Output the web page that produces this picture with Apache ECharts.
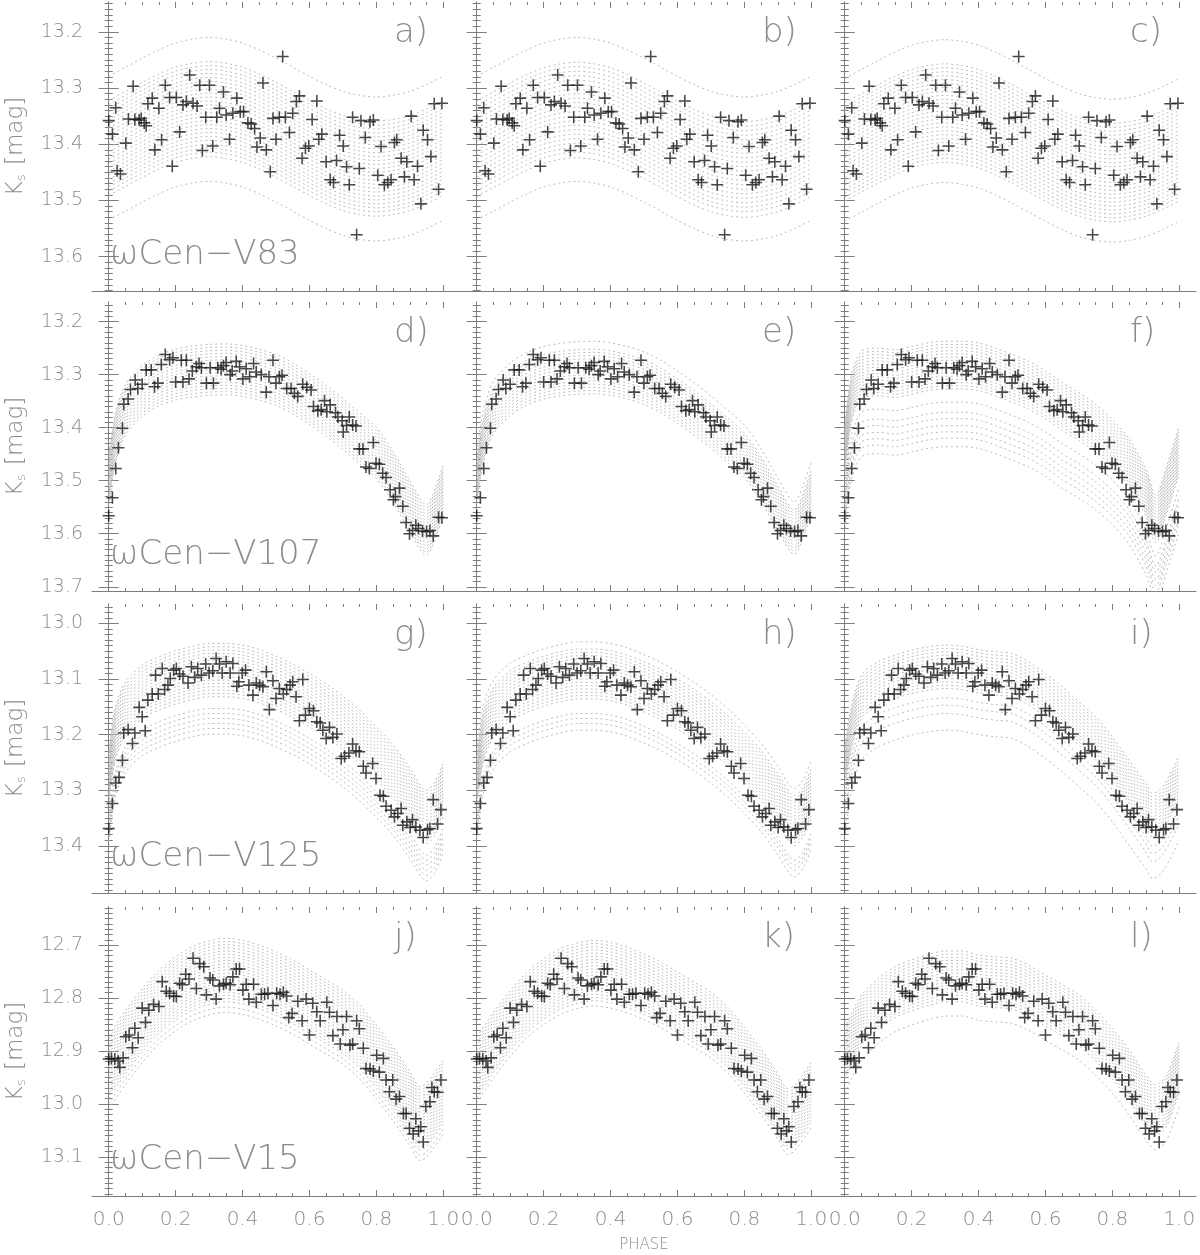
<!DOCTYPE html>
<html>
<head>
<meta charset="utf-8">
<script src="https://cdn.jsdelivr.net/npm/echarts@6/dist/echarts.min.js"></script>
<style>
  html, body { margin: 0; background: #fff; }
  #chart { width: 1200px; height: 1255px; }
</style>
</head>
<body>
<div id="chart"></div>
<script>
// ---- observed light curves [phase, Ks] (same points in all three columns of a row)
const v83Obs = [[0.000,13.358],[0.011,13.382],[0.021,13.335],[0.025,13.447],[0.035,13.453],[0.051,13.398],[0.059,13.355],[0.073,13.297],[0.078,13.356],[0.091,13.357],[0.097,13.354],[0.106,13.362],[0.112,13.367],[0.117,13.328],[0.130,13.318],[0.138,13.410],[0.150,13.336],[0.158,13.392],[0.169,13.295],[0.182,13.317],[0.190,13.439],[0.202,13.317],[0.212,13.378],[0.222,13.330],[0.232,13.324],[0.242,13.277],[0.252,13.327],[0.264,13.332],[0.272,13.295],[0.280,13.411],[0.290,13.352],[0.301,13.295],[0.311,13.403],[0.323,13.352],[0.331,13.336],[0.343,13.307],[0.351,13.348],[0.361,13.391],[0.371,13.345],[0.383,13.318],[0.393,13.342],[0.403,13.342],[0.416,13.362],[0.426,13.364],[0.436,13.372],[0.443,13.405],[0.453,13.389],[0.461,13.291],[0.471,13.410],[0.483,13.449],[0.491,13.354],[0.500,13.391],[0.510,13.352],[0.520,13.244],[0.528,13.352],[0.540,13.379],[0.550,13.345],[0.561,13.324],[0.570,13.314],[0.578,13.425],[0.588,13.407],[0.598,13.403],[0.608,13.356],[0.622,13.323],[0.628,13.391],[0.637,13.382],[0.650,13.431],[0.662,13.463],[0.672,13.468],[0.681,13.429],[0.690,13.384],[0.701,13.403],[0.711,13.440],[0.719,13.472],[0.729,13.352],[0.741,13.561],[0.749,13.443],[0.754,13.358],[0.767,13.388],[0.781,13.360],[0.791,13.357],[0.804,13.455],[0.814,13.404],[0.824,13.472],[0.834,13.468],[0.844,13.463],[0.854,13.397],[0.861,13.392],[0.874,13.425],[0.884,13.458],[0.891,13.431],[0.904,13.350],[0.913,13.463],[0.923,13.439],[0.933,13.506],[0.940,13.375],[0.953,13.392],[0.963,13.422],[0.973,13.328],[0.986,13.480],[0.996,13.327]];

const v107Obs = [[0.000,13.566],[0.011,13.532],[0.021,13.477],[0.029,13.438],[0.041,13.401],[0.045,13.356],[0.058,13.346],[0.065,13.328],[0.079,13.310],[0.087,13.326],[0.100,13.318],[0.112,13.291],[0.127,13.291],[0.137,13.323],[0.147,13.316],[0.157,13.281],[0.169,13.262],[0.182,13.272],[0.192,13.268],[0.200,13.314],[0.217,13.273],[0.222,13.314],[0.232,13.273],[0.240,13.308],[0.250,13.293],[0.262,13.285],[0.270,13.279],[0.277,13.287],[0.292,13.316],[0.303,13.287],[0.313,13.316],[0.326,13.287],[0.336,13.290],[0.343,13.283],[0.351,13.277],[0.363,13.300],[0.369,13.293],[0.381,13.275],[0.391,13.285],[0.401,13.308],[0.411,13.289],[0.421,13.304],[0.433,13.279],[0.441,13.295],[0.456,13.300],[0.471,13.333],[0.479,13.304],[0.491,13.273],[0.500,13.316],[0.510,13.304],[0.518,13.301],[0.532,13.326],[0.545,13.326],[0.555,13.335],[0.565,13.341],[0.580,13.318],[0.592,13.324],[0.605,13.329],[0.612,13.360],[0.625,13.368],[0.635,13.366],[0.645,13.349],[0.652,13.370],[0.662,13.357],[0.678,13.372],[0.685,13.380],[0.698,13.387],[0.701,13.408],[0.711,13.396],[0.719,13.380],[0.729,13.395],[0.739,13.397],[0.749,13.440],[0.760,13.440],[0.769,13.474],[0.779,13.477],[0.791,13.428],[0.799,13.467],[0.809,13.469],[0.819,13.486],[0.829,13.494],[0.841,13.517],[0.851,13.536],[0.857,13.530],[0.869,13.514],[0.879,13.548],[0.889,13.579],[0.899,13.600],[0.908,13.594],[0.918,13.584],[0.926,13.590],[0.938,13.595],[0.950,13.596],[0.960,13.594],[0.970,13.604],[0.986,13.569],[0.996,13.570]];

const v125Obs = [[0.000,13.369],[0.011,13.324],[0.021,13.287],[0.031,13.277],[0.041,13.246],[0.045,13.197],[0.058,13.191],[0.071,13.216],[0.078,13.197],[0.091,13.151],[0.100,13.168],[0.109,13.193],[0.117,13.138],[0.130,13.127],[0.140,13.093],[0.148,13.127],[0.160,13.081],[0.167,13.119],[0.177,13.111],[0.184,13.099],[0.194,13.084],[0.202,13.081],[0.212,13.091],[0.222,13.095],[0.237,13.107],[0.247,13.078],[0.257,13.097],[0.266,13.081],[0.277,13.093],[0.290,13.073],[0.300,13.089],[0.311,13.085],[0.321,13.063],[0.331,13.073],[0.339,13.089],[0.351,13.069],[0.363,13.089],[0.371,13.072],[0.383,13.113],[0.389,13.105],[0.399,13.089],[0.409,13.084],[0.419,13.111],[0.431,13.129],[0.441,13.107],[0.451,13.111],[0.461,13.114],[0.471,13.087],[0.480,13.155],[0.491,13.103],[0.500,13.135],[0.510,13.117],[0.522,13.127],[0.532,13.119],[0.542,13.111],[0.550,13.105],[0.560,13.132],[0.570,13.175],[0.580,13.101],[0.588,13.165],[0.600,13.153],[0.612,13.157],[0.622,13.177],[0.632,13.179],[0.640,13.192],[0.650,13.207],[0.660,13.187],[0.670,13.205],[0.682,13.199],[0.695,13.243],[0.705,13.239],[0.718,13.233],[0.729,13.217],[0.739,13.229],[0.749,13.231],[0.761,13.257],[0.769,13.269],[0.789,13.252],[0.799,13.279],[0.811,13.309],[0.821,13.311],[0.829,13.329],[0.844,13.336],[0.854,13.348],[0.864,13.342],[0.874,13.333],[0.879,13.363],[0.891,13.357],[0.901,13.367],[0.908,13.353],[0.918,13.366],[0.930,13.372],[0.940,13.385],[0.953,13.371],[0.960,13.369],[0.970,13.317],[0.983,13.361],[0.993,13.335]];

const v15Obs = [[0.000,12.915],[0.008,12.914],[0.018,12.915],[0.028,12.919],[0.033,12.931],[0.043,12.913],[0.051,12.873],[0.061,12.870],[0.071,12.894],[0.078,12.857],[0.088,12.875],[0.100,12.819],[0.110,12.846],[0.120,12.823],[0.134,12.812],[0.150,12.816],[0.160,12.769],[0.172,12.787],[0.182,12.791],[0.194,12.796],[0.202,12.797],[0.212,12.772],[0.220,12.775],[0.230,12.755],[0.240,12.764],[0.252,12.725],[0.262,12.782],[0.272,12.735],[0.284,12.741],[0.292,12.794],[0.303,12.762],[0.311,12.766],[0.321,12.802],[0.331,12.777],[0.343,12.774],[0.351,12.772],[0.363,12.775],[0.371,12.760],[0.381,12.745],[0.391,12.745],[0.401,12.785],[0.411,12.774],[0.419,12.802],[0.433,12.774],[0.441,12.808],[0.456,12.793],[0.466,12.793],[0.476,12.791],[0.491,12.814],[0.502,12.791],[0.512,12.793],[0.522,12.789],[0.532,12.796],[0.538,12.837],[0.548,12.829],[0.565,12.806],[0.578,12.843],[0.590,12.802],[0.600,12.870],[0.610,12.810],[0.622,12.826],[0.632,12.843],[0.652,12.808],[0.660,12.827],[0.670,12.871],[0.682,12.835],[0.692,12.887],[0.700,12.860],[0.711,12.835],[0.721,12.889],[0.729,12.887],[0.741,12.843],[0.749,12.858],[0.761,12.895],[0.769,12.933],[0.781,12.934],[0.791,12.938],[0.801,12.908],[0.809,12.940],[0.821,12.914],[0.829,12.955],[0.839,12.977],[0.849,12.955],[0.859,12.991],[0.869,12.986],[0.881,13.018],[0.889,13.018],[0.899,13.046],[0.910,13.057],[0.918,13.028],[0.926,13.051],[0.933,13.043],[0.940,13.072],[0.948,13.005],[0.960,12.996],[0.966,12.969],[0.973,12.977],[0.983,12.978],[0.993,12.955]];

// ---- model templates (upper curve of each family) [phase, Ks]
const v83Template = [[0,13.279],[0.05,13.263],[0.10,13.247],[0.15,13.232],[0.20,13.220],[0.25,13.213],[0.30,13.210],[0.35,13.213],[0.40,13.220],[0.45,13.232],[0.50,13.247],[0.55,13.263],[0.60,13.279],[0.65,13.294],[0.70,13.306],[0.75,13.313],[0.80,13.316],[0.85,13.313],[0.90,13.306],[0.95,13.294],[1.00,13.279]];
const v107Template = [[0,13.450],[0.02,13.372],[0.05,13.318],[0.10,13.283],[0.15,13.263],[0.20,13.252],[0.25,13.246],[0.30,13.243],[0.35,13.242],[0.40,13.245],[0.45,13.252],[0.50,13.262],[0.55,13.278],[0.60,13.298],[0.65,13.320],[0.70,13.345],[0.75,13.372],[0.80,13.400],[0.85,13.445],[0.90,13.500],[0.95,13.545],[0.975,13.515],[1.00,13.470]];
const v107TemplateC = [[0,13.400],[0.02,13.300],[0.05,13.256],[0.10,13.250],[0.15,13.253],[0.20,13.247],[0.25,13.240],[0.30,13.237],[0.35,13.237],[0.40,13.240],[0.45,13.250],[0.50,13.262],[0.55,13.275],[0.60,13.293],[0.65,13.315],[0.70,13.334],[0.75,13.356],[0.80,13.384],[0.85,13.421],[0.90,13.477],[0.93,13.527],[0.96,13.477],[1.00,13.396]];
const v125Template = [[0,13.230],[0.02,13.150],[0.05,13.105],[0.10,13.075],[0.15,13.060],[0.20,13.049],[0.25,13.041],[0.30,13.036],[0.35,13.036],[0.40,13.039],[0.45,13.047],[0.50,13.059],[0.55,13.073],[0.60,13.090],[0.65,13.109],[0.70,13.131],[0.75,13.156],[0.80,13.186],[0.85,13.218],[0.90,13.260],[0.95,13.300],[0.975,13.285],[1.00,13.250]];
const v125TemplateC = [[0,13.220],[0.02,13.150],[0.05,13.093],[0.10,13.069],[0.15,13.057],[0.20,13.048],[0.25,13.042],[0.30,13.039],[0.35,13.041],[0.40,13.047],[0.45,13.051],[0.50,13.054],[0.55,13.069],[0.60,13.090],[0.65,13.114],[0.70,13.141],[0.75,13.168],[0.80,13.204],[0.85,13.246],[0.90,13.288],[0.92,13.306],[0.95,13.294],[1.00,13.237]];
const v15Template = [[0,12.870],[0.05,12.823],[0.10,12.782],[0.15,12.747],[0.20,12.722],[0.25,12.703],[0.30,12.692],[0.35,12.687],[0.40,12.691],[0.45,12.700],[0.50,12.713],[0.55,12.728],[0.60,12.747],[0.65,12.766],[0.70,12.785],[0.75,12.813],[0.80,12.851],[0.85,12.892],[0.90,12.939],[0.93,12.967],[0.95,12.961],[1.00,12.917]];
const v15TemplateC = [[0,12.857],[0.05,12.794],[0.10,12.763],[0.15,12.741],[0.20,12.728],[0.25,12.718],[0.30,12.711],[0.35,12.711],[0.40,12.719],[0.45,12.722],[0.50,12.725],[0.55,12.738],[0.60,12.757],[0.65,12.775],[0.70,12.794],[0.75,12.823],[0.80,12.857],[0.85,12.898],[0.90,12.945],[0.93,12.964],[0.96,12.948],[1.00,12.882]];

// ---- magnitude shifts of each model curve in a panel
const offA = [0,0.043,0.050,0.057,0.064,0.071,0.078,0.085,0.092,0.099,0.106,0.113,0.120,0.127,0.134,0.141,0.148,0.155,0.162,0.169,0.176,0.183,0.190,0.197,0.204,0.212,0.256];
const offB = [0,0.044,0.052,0.060,0.068,0.076,0.084,0.092,0.100,0.108,0.116,0.124,0.132,0.140,0.148,0.156,0.164,0.172,0.180,0.188,0.196,0.204,0.214,0.256];
const offC = [0.004,0.047,0.054,0.061,0.068,0.075,0.082,0.089,0.096,0.103,0.110,0.117,0.124,0.131,0.138,0.145,0.152,0.159,0.166,0.173,0.180,0.187,0.194,0.201,0.208,0.215,0.222,0.258];
const offD = [0,0.006,0.012,0.018,0.024,0.030,0.036,0.042,0.048,0.054,0.060,0.066,0.072,0.078,0.084,0.090,0.096];
const offE = [-0.005,0.010,0.016,0.022,0.028,0.034,0.040,0.046,0.052,0.058,0.064,0.070,0.076,0.082,0.088,0.094];
const offF = [0,0.006,0.012,0.018,0.024,0.030,0.036,0.042,0.048,0.054,0.060,0.066,0.072,0.078,0.084,0.090,0.115,0.134,0.146,0.159,0.171,0.183,0.199];
const offG = [0,0.006,0.012,0.018,0.024,0.030,0.036,0.042,0.048,0.054,0.060,0.066,0.072,0.078,0.084,0.090,0.096,0.117,0.126,0.135,0.144,0.153,0.163];
const offH = [-0.003,0.010,0.016,0.022,0.028,0.034,0.040,0.046,0.052,0.058,0.064,0.070,0.076,0.082,0.088,0.094,0.100,0.126,0.135,0.144,0.156];
const offI = [0,0.006,0.012,0.018,0.024,0.030,0.036,0.042,0.048,0.054,0.060,0.066,0.072,0.078,0.095,0.108,0.123,0.153];
const offJ = [0,0.006,0.012,0.018,0.024,0.030,0.036,0.042,0.048,0.054,0.060,0.066,0.072,0.078,0.084,0.090,0.096,0.102,0.108,0.114,0.120,0.130,0.140];
const offK = [0.004,0.010,0.016,0.022,0.028,0.034,0.040,0.046,0.052,0.058,0.064,0.070,0.076,0.082,0.088,0.094,0.100,0.106,0.112,0.118,0.128];
const offL = [0,0.006,0.012,0.018,0.024,0.030,0.036,0.042,0.048,0.054,0.060,0.066,0.072,0.078,0.084,0.090,0.096,0.123];

// ---- axes / labels
const phaseTicks = [0, 0.2, 0.4, 0.6, 0.8, 1.0];
const phaseMinor = [0,0.05,0.1,0.15,0.2,0.25,0.3,0.35,0.4,0.45,0.5,0.55,0.6,0.65,0.7,0.75,0.8,0.85,0.9,0.95,1.0];
const magTicks = [
  [13.2, 13.3, 13.4, 13.5, 13.6],
  [13.2, 13.3, 13.4, 13.5, 13.6, 13.7],
  [13.0, 13.1, 13.2, 13.3, 13.4],
  [12.7, 12.8, 12.9, 13.0, 13.1],
];
const magRange = [[13.147, 13.661], [13.163, 13.708], [12.965, 13.485], [12.628, 13.174]];
const starNames = ['ωCen−V83', 'ωCen−V107', 'ωCen−V125', 'ωCen−V15'];
const letters = ['a)','b)','c)','d)','e)','f)','g)','h)','i)','j)','k)','l)'];

const obsByRow = [v83Obs, v107Obs, v125Obs, v15Obs];
const templates = [
  [v83Template, v83Template, v83Template],
  [v107Template, v107Template, v107TemplateC],
  [v125Template, v125Template, v125TemplateC],
  [v15Template, v15Template, v15TemplateC],
];
const offsets = [[offA, offB, offC], [offD, offE, offF], [offG, offH, offI], [offJ, offK, offL]];

const colLeft = [92, 460, 828];
const colWidth = 368;
const rowTop = [2, 302, 604, 907];
const rowHeight = 289;

const FONT = "'DejaVu Sans', 'Open Sans', sans-serif";
const AXIS_COLOR = '#7d7d7d';
const TEXT_COLOR = '#8c8c8c';
const plus = 'path://M0,4.35L10,4.35L10,5.65L0,5.65Z M4.35,0L5.65,0L5.65,10L4.35,10Z';

function minorMags(range) {
  const out = [];
  for (let v = Math.ceil(range[0] * 100); v <= Math.floor(range[1] * 100); v++) out.push(v / 100);
  return out;
}

const grid = [], xAxis = [], yAxis = [], series = [], graphic = [];
const nameStyle = { color: TEXT_COLOR, fontFamily: FONT, fontWeight: 200 };

for (let r = 0; r < 4; r++) {
  for (let c = 0; c < 3; c++) {
    const p = r * 3 + c;
    const box = { left: colLeft[c], top: rowTop[r], width: colWidth, height: rowHeight, outerBoundsMode: 'none' };
    grid.push(box, Object.assign({}, box));
    const gMain = 2 * p, gMinor = 2 * p + 1;
    const xBase = { type: 'value', min: -0.05, max: 1.05, splitLine: { show: false } };
    const yBase = { type: 'value', min: magRange[r][0], max: magRange[r][1], inverse: true, splitLine: { show: false } };

    // major ticks + frame
    xAxis.push(Object.assign({}, xBase, {
      gridIndex: gMain, position: 'bottom',
      axisLine: { show: true, lineStyle: { color: AXIS_COLOR, width: 1 } },
      axisTick: { show: true, inside: true, length: 6, customValues: phaseTicks, lineStyle: { color: AXIS_COLOR } },
      axisLabel: {
        show: r === 3, customValues: phaseTicks, margin: 14,
        formatter: v => v.toFixed(1), color: TEXT_COLOR, fontFamily: FONT, fontSize: 20, fontWeight: 200,
      },
    }));
    xAxis.push(Object.assign({}, xBase, {
      gridIndex: gMain, position: 'top',
      axisLine: { show: false },
      axisTick: { show: true, inside: true, length: 6, customValues: phaseTicks, lineStyle: { color: AXIS_COLOR } },
      axisLabel: { show: false },
    }));
    yAxis.push(Object.assign({}, yBase, {
      gridIndex: gMain, position: 'left',
      axisLine: { show: true, lineStyle: { color: AXIS_COLOR, width: 1 } },
      axisTick: { show: true, inside: true, length: 10, customValues: magTicks[r], lineStyle: { color: AXIS_COLOR } },
      axisLabel: {
        show: c === 0, customValues: magTicks[r], margin: 9,
        formatter: v => v.toFixed(1), color: TEXT_COLOR, fontFamily: FONT, fontSize: 19, fontWeight: 200,
      },
      name: c === 0 ? '{k|K}{s|s}{k| [mag]}' : '',
      nameLocation: 'middle', nameRotate: 90, nameGap: 62,
      nameTextStyle: Object.assign({ fontSize: 23 }, nameStyle, {
        rich: {
          k: Object.assign({ fontSize: 23, lineHeight: 28 }, nameStyle),
          s: Object.assign({ fontSize: 13, lineHeight: 28, padding: [12, 2, 0, 0] }, nameStyle),
        },
      }),
    }));
    yAxis.push(Object.assign({}, yBase, {
      gridIndex: gMain, position: 'right',
      axisLine: { show: true, lineStyle: { color: AXIS_COLOR, width: 1 } },
      axisTick: { show: true, inside: true, length: 10, customValues: magTicks[r], lineStyle: { color: AXIS_COLOR } },
      axisLabel: { show: false },
    }));

    // minor ticks on an overlaid grid
    ['bottom', 'top'].forEach(pos => xAxis.push(Object.assign({}, xBase, {
      gridIndex: gMinor, position: pos, axisLine: { show: false },
      axisTick: { show: true, inside: true, length: 3, customValues: phaseMinor, lineStyle: { color: AXIS_COLOR } },
      axisLabel: { show: false },
    })));
    ['left', 'right'].forEach(pos => yAxis.push(Object.assign({}, yBase, {
      gridIndex: gMinor, position: pos, axisLine: { show: false },
      axisTick: { show: true, inside: true, length: 4, customValues: minorMags(magRange[r]), lineStyle: { color: AXIS_COLOR } },
      axisLabel: { show: false },
    })));

    const xi = 4 * p, yi = 4 * p;
    const tpl = templates[r][c];
    offsets[r][c].forEach(o => {
      series.push({
        type: 'line', xAxisIndex: xi, yAxisIndex: yi,
        data: tpl.map(d => [d[0], +(d[1] + o).toFixed(4)]),
        symbol: 'none', smooth: 0.3, silent: true, z: 1,
        lineStyle: { color: '#bdbdbd', width: 1, type: [2, 3] },
      });
    });
    series.push({
      type: 'scatter', xAxisIndex: xi, yAxisIndex: yi,
      data: obsByRow[r], symbol: plus, symbolSize: 12, silent: true, z: 3,
      itemStyle: { color: '#1a1a1a' },
    });

    graphic.push({
      type: 'text', x: colLeft[c] + 302, y: rowTop[r] + 31, silent: true,
      style: { text: letters[p], fill: TEXT_COLOR, font: `200 34px ${FONT}`, align: 'left', verticalAlign: 'middle' },
    });
    if (c === 0) {
      graphic.push({
        type: 'text', x: colLeft[c] + 18, y: rowTop[r] + 253, silent: true,
        style: { text: starNames[r], fill: TEXT_COLOR, font: `200 34px ${FONT}`, align: 'left', verticalAlign: 'middle' },
      });
    }
  }
}

graphic.push({
  type: 'text', x: 644, y: 1245, silent: true,
  style: { text: 'PHASE', fill: TEXT_COLOR, font: `200 15px ${FONT}`, align: 'center', verticalAlign: 'middle' },
});

const chart = echarts.init(document.getElementById('chart'));
chart.setOption({
  animation: false,
  backgroundColor: '#ffffff',
  grid, xAxis, yAxis, series, graphic,
});
</script>
</body>
</html>
